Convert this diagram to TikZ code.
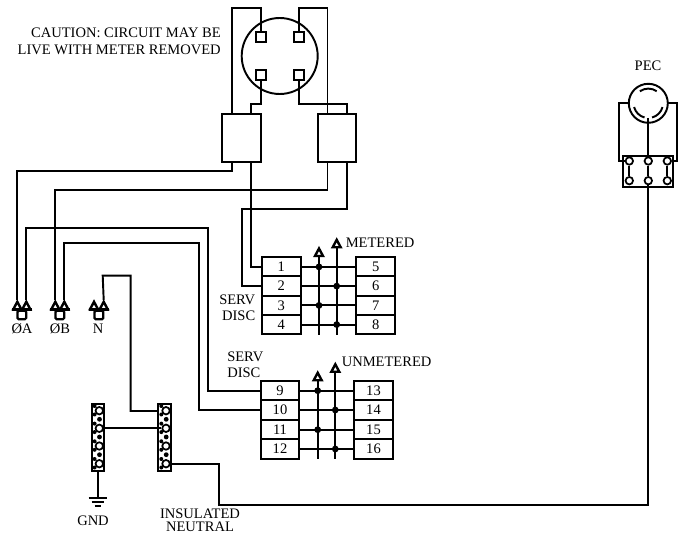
\documentclass[tikz,border=0pt]{standalone}
\usepackage{fontspec}
\setmainfont{Liberation Serif}
\usetikzlibrary{calc}
\tikzset{
  wire/.style={line width=1.45pt,line join=miter},
  box/.style={draw,line width=1.45pt,fill=white,rectangle,inner sep=0pt},
  termbox/.style={box,minimum width=29pt,minimum height=14.45pt,font=\fontsize{10.9}{12}\selectfont},
  feedbox/.style={box,minimum width=28.8pt,minimum height=36pt},
  socket/.style={box,minimum width=7.5pt,minimum height=7.5pt},
  label/.style={inner sep=0pt,font=\fontsize{10.9}{12.5}\selectfont},
  barbox/.style={box,minimum width=9.2pt,minimum height=50pt},
  ringdot/.style={circle,draw,line width=1.3pt,fill=white,minimum size=5.6pt,inner sep=0pt},
  lugring/.style={box,line width=1.7pt,minimum width=6.5pt,minimum height=6.5pt,rounded corners=1pt}
}
\newcommand{\mytri}[3]{% name, x, tip y
  \draw[line width=1.8pt,fill=white,line join=miter,miter limit=3] (#2-4,#3+9.3) -- (#2,#3+1.8) -- (#2+4,#3+9.3) -- cycle;
  \coordinate (#1) at (#2,#3);
}
\newcommand{\mylug}[5]{% names a b ring, xa xb
  \mytri{#1}{#4}{300}
  \mytri{#2}{#5}{300}
  \draw[line width=1.8pt] ({#4-5.5},309.5) -- ({#5+5.5},309.5);
  \node[lugring] (#3) at ({(#4+#5)/2},315) {};
}
\newcommand{\mybar}[3]{% name, xcenter, ring x
  \node[barbox] (#1) at (#2,437.5) {};
  \foreach \yy/\kk in {410.7/1,428.3/2,446/3,463.7/4}{
    \fill ({#3-4.7},\yy-4.7) circle (2);
    \fill ({#3-4.7},\yy+3.8) circle (2);
    \node[ringdot] (#1r\kk) at (#3,\yy) {};
  }
  \foreach \yy in {419.3,437,454.7}{\fill ({#3+0.2},\yy) circle (2.4);}
}
\begin{document}
\begin{tikzpicture}[x=0.75pt,y=-0.75pt]
\useasboundingbox (0,0) rectangle (689,534);

% meter
\draw[wire] (279.7,56) circle (38);
\node[socket] (s1) at (260.7,37.3) {};
\node[socket] (s2) at (298.7,37.3) {};
\node[socket] (s3) at (260.7,75.3) {};
\node[socket] (s4) at (298.7,75.3) {};
\node[feedbox] (fl) at (241.5,137.7) {};
\node[feedbox] (fr) at (337.2,137.7) {};

% lugs
\mylug{a1}{a2}{ra}{17.3}{26.3}
\mylug{b1}{b2}{rb}{55.3}{64.3}
\mylug{n1}{n2}{rn}{94}{103.7}

% wiring meter
\draw[wire] (s1.north) -- (260.7,8) -- (232,8) -- (232,113.7);
\draw[wire] (s2.north) -- (298.7,8) -- (327.5,8) -- (327.5,113.7);
\draw[wire] (s3.south) -- (260.7,104) -- (251,104) -- (251,113.7);
\draw[wire] (s4.south) -- (298.7,104) -- (346.7,104) -- (346.7,113.7);

% terminals
\foreach \n/\y in {1/266.9,2/286.1,3/305.4,4/324.6}{\node[termbox] (t\n) at (281.2,\y) {\n};}
\foreach \n/\y in {5/266.9,6/286.1,7/305.4,8/324.6}{\node[termbox] (t\n) at (375.7,\y) {\n};}
\foreach \n/\y in {9/390.7,10/410,11/429.7,12/449}{\node[termbox] (t\n) at (280,\y) {\n};}
\foreach \n/\y in {13/390.7,14/410,15/429.7,16/449}{\node[termbox] (t\n) at (373.5,\y) {\n};}

% feeders
\draw[wire] (232,161.7) -- (232,171) -- (17.3,171) -- (a1);
\draw[wire] (327.5,161.7) -- (327.5,190) -- (55.3,190) -- (b1);
\draw[wire] (251,161.7) -- (251,266.9) -- (t1.west);
\draw[wire] (346.7,161.7) -- (346.7,209) -- (241.7,209) -- (241.7,286.1) -- (t2.west);
\draw[wire] (a2) -- (26.3,228) -- (208,228) -- (208,390.7) -- (t9.west);
\draw[wire] (b2) -- (64.3,243) -- (199,243) -- (199,410) -- (t10.west);

% row links and buses
\foreach \aa/\bb in {1/5,2/6,3/7,4/8,9/13,10/14,11/15,12/16}{\draw[wire] (t\aa.east) -- (t\bb.west);}
\coordinate (m1e) at (319,335);
\coordinate (m2e) at (336.7,335);
\coordinate (u1e) at (317.7,459);
\coordinate (u2e) at (335.3,459);
\coordinate (m1s) at (319,256);
\coordinate (m2s) at (336.7,247);
\coordinate (u1s) at (317.7,380);
\coordinate (u2s) at (335.3,371.5);
\draw[wire] (m1s) -- (m1e);
\draw[wire] (m2s) -- (m2e);
\draw[wire] (u1s) -- (u1e);
\draw[wire] (u2s) -- (u2e);
\mytri{m1}{319}{246.7}
\mytri{m2}{336.7}{238}
\mytri{u1}{317.7}{371}
\mytri{u2}{335.3}{362.5}
\foreach \cc/\rr in {m1e/1,m2e/2,m1e/3,m2e/4,u1e/9,u2e/10,u1e/11,u2e/12}{\fill (\cc |- t\rr) circle (3.4);}

% neutral bars
\mybar{gb}{97.8}{99.3}
\mybar{nb}{164.5}{166}
\draw[wire] (97.7,471) -- (97.7,497) coordinate (gnd);
\draw[wire] (88.7,497.7) -- (106.7,497.7);
\draw[wire] (91.7,502) -- (103.7,502);
\draw[wire] (94.7,506) -- (100.7,506);
\draw[wire] (n2) -- (102.7,275.7) -- (130.7,275.7) -- (130.7,411) -- (158.3,411);
\draw[wire] (gbr2) -- (nbr2);

% PEC
\draw[wire] (648.3,103.3) circle (19.5);
\draw[wire] (648.3,103.3) ++(105:14.7) arc (105:165:14.7);
\draw[wire] (648.3,103.3) ++(15:14.7) arc (15:75:14.7);
\draw[wire] (648.3,103.3) ++(-55:14.7) arc (-55:-125:14.7);
\node[box,line width=1.7pt,minimum width=38pt,minimum height=23.2pt] (pb) at (648,171.2) {};
\foreach \pn/\px/\py in {p1/629.3/161,p2/648.3/161,p3/667.3/161,p4/629.3/180.7,p5/648.3/180.7,p6/667.3/180.7}{\node[ringdot] (\pn) at (\px,\py) {};}
\draw[wire] (p1) -- (p4);
\draw[wire] (p2) -- (p5);
\draw[wire] (p3) -- (p6);
\draw[wire] (628.8,103.3) -- (619,103.3) -- (619,161) -- (p1.west);
\draw[wire] (667.8,103.3) -- (677.3,103.3) -- (677.3,161) -- (p3.east);
\draw[wire] (648.3,118) -- (p2.north);
\draw[wire] (nbr4.east) -- (219,463.7) -- (219,505) -- (648.3,505) -- (p5.south);
\draw[line width=2pt] (525,505) -- (568,505);

% labels
\node[label,anchor=east] (l1) at (221,32.5) {CAUTION: CIRCUIT MAY BE};
\node[label,anchor=east] (l2) at (221,49.5) {LIVE WITH METER REMOVED};
\node[label] (l3) at (648,66) {PEC};
\node[label,anchor=west] (l4) at (345.5,243) {METERED};
\node[label,anchor=west] (l5) at (341.5,362) {UNMETERED};
\node[label,anchor=east] (l6) at (255.5,299.5) {SERV};
\node[label,anchor=east] (l7) at (255.5,315.5) {DISC};
\node[label,anchor=west] (l8) at (227,357) {SERV};
\node[label,anchor=west] (l9) at (227,373) {DISC};
\node[label] (l10) at (22,329) {ØA};
\node[label] (l11) at (60,329) {ØB};
\node[label] (l12) at (98,329) {N};
\node[label] (l13) at (93,521) {GND};
\node[label] (l14) at (200,514) {INSULATED};
\node[label] (l15) at (200,527) {NEUTRAL};
\end{tikzpicture}
\end{document}
